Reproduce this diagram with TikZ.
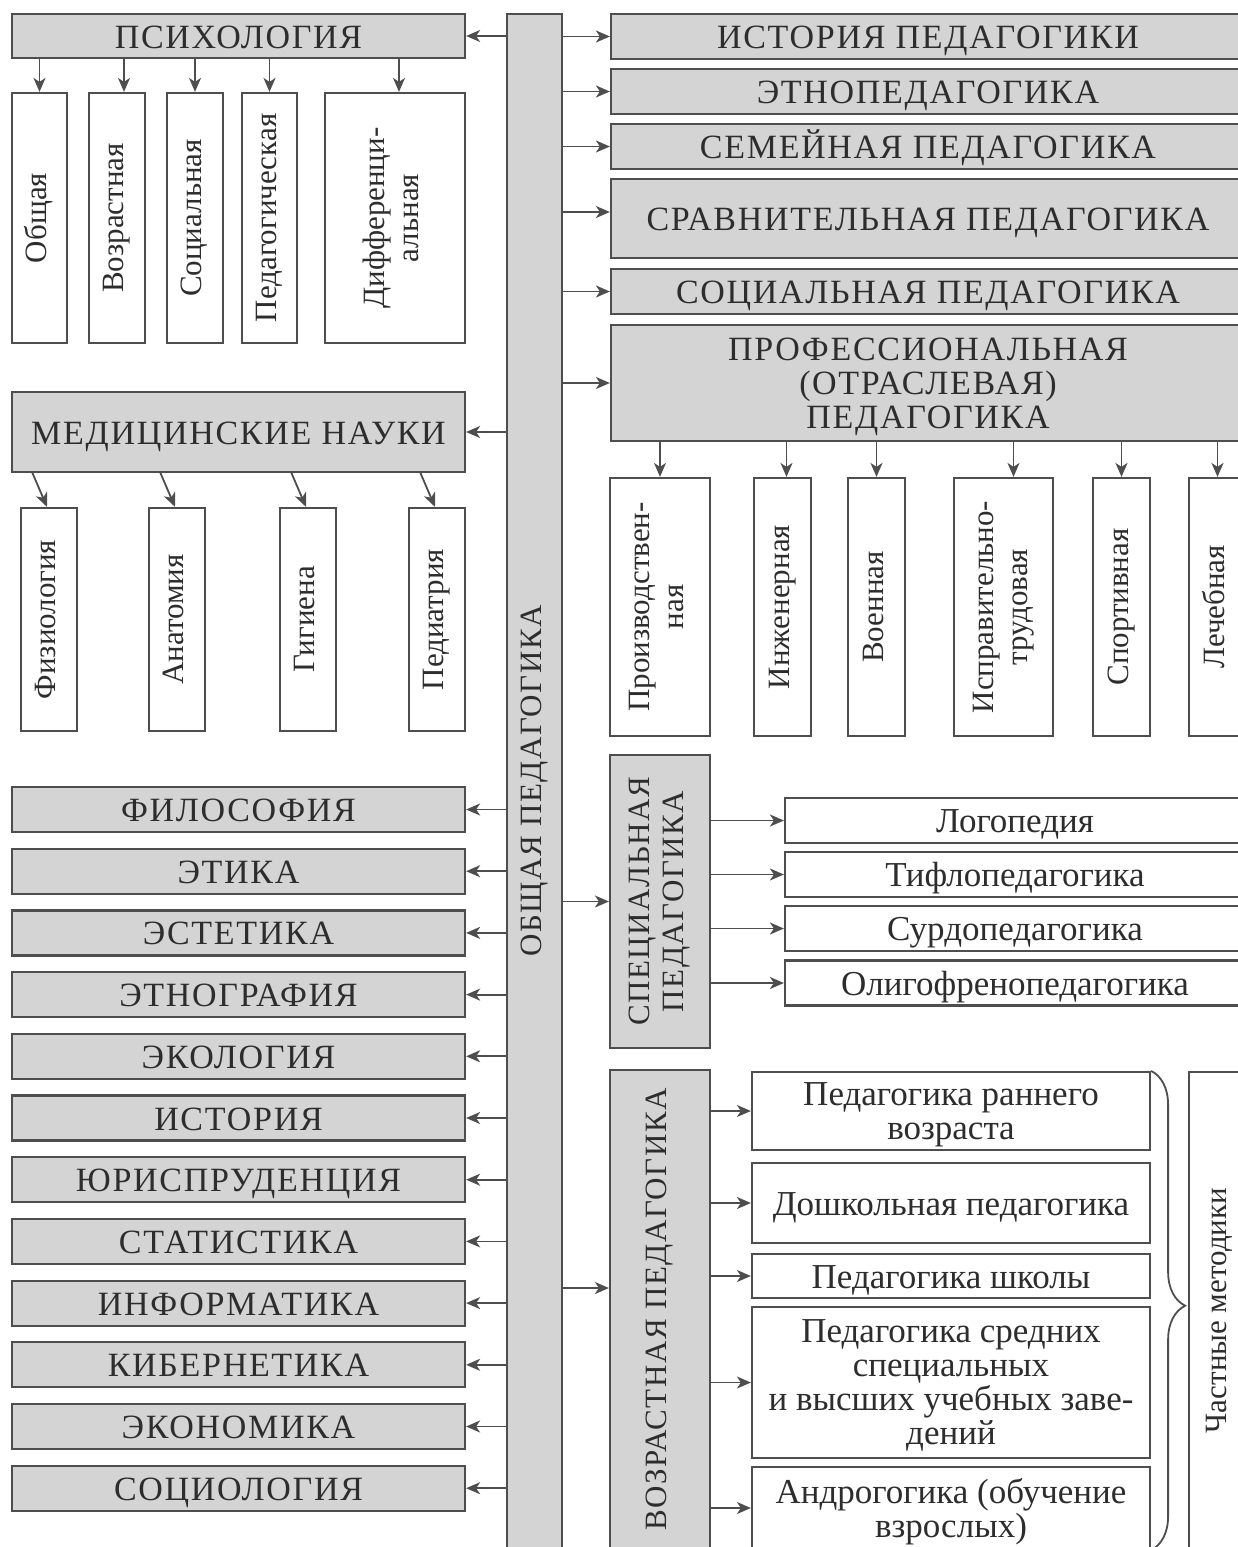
\documentclass[tikz,border=0pt]{standalone}
\usepackage{fontspec}
\setmainfont{Liberation Serif}
\usepackage{graphicx}
\usetikzlibrary{arrows.meta,decorations.pathreplacing}
\definecolor{boxgray}{RGB}{212,212,212}
\definecolor{linegray}{RGB}{78,78,78}
\definecolor{inkgray}{RGB}{45,45,45}
\newcommand{\vtext}[1]{\rotatebox{90}{\fontsize{31}{34}\selectfont\begin{tabular}{@{}c@{}}#1\end{tabular}}}

\begin{document}
\begin{tikzpicture}[x=1pt, y=-1pt, font=\fontsize{35}{34}\selectfont, text=inkgray,
  box/.style={draw=linegray, line width=2.2pt, inner sep=0pt, align=center},
  gbox/.style={box, fill=boxgray, capfont},
  wbox/.style={box, fill=white},
  oneline/.style={text height=24pt, text depth=0pt},
  capfont/.style={font=\fontsize{34}{34}\selectfont\addfontfeature{LetterSpace=5}},
  arr/.style={draw=linegray, line width=1.8pt, -{Stealth[length=14pt,width=12pt,inset=4pt]}}]
\useasboundingbox (0,0) rectangle (1238,1547);
\clip (0,0) rectangle (1238,1547);
% central bar
\node[gbox, minimum width=55pt, minimum height=1534pt] (main) at (534.5,781) {\vtext{ОБЩАЯ ПЕДАГОГИКА}};
% psychology
\node[gbox, oneline, minimum width=453pt, minimum height=44pt] (psy) at (238.5,36) {ПСИХОЛОГИЯ};
\node[wbox, minimum width=55pt, minimum height=250pt] (psyobsh) at (39.5,218) {\vtext{Общая}};
\node[wbox, minimum width=56pt, minimum height=250pt] (psyvozr) at (117,218) {\vtext{Возрастная}};
\node[wbox, minimum width=56pt, minimum height=250pt] (psysoc) at (195,218) {\vtext{Социальная}};
\node[wbox, minimum width=55pt, minimum height=250pt] (psyped) at (269.5,218) {\vtext{Педагогическая}};
\node[wbox, minimum width=140pt, minimum height=250pt] (psydiff) at (395,218) {\vtext{Дифференци-\\альная}};
\draw[arr] (main.west |- psy) -- (psy.east);
\draw[arr] (psyobsh.north |- psy.south) -- (psyobsh.north);
\draw[arr] ([xshift=7pt]psyvozr.north |- psy.south) -- ([xshift=7pt]psyvozr.north);
\draw[arr] (psysoc.north |- psy.south) -- (psysoc.north);
\draw[arr] (psyped.north |- psy.south) -- (psyped.north);
\draw[arr] ([xshift=4pt]psydiff.north |- psy.south) -- ([xshift=4pt]psydiff.north);
% medicine
\node[gbox, oneline, minimum width=453pt, minimum height=80pt] (med) at (238.5,432) {МЕДИЦИНСКИЕ НАУКИ};
\node[wbox, minimum width=56pt, minimum height=223pt] (medfiz) at (49,619.5) {\vtext{Физиология}};
\node[wbox, minimum width=56pt, minimum height=223pt] (medanat) at (177,619.5) {\vtext{Анатомия}};
\node[wbox, minimum width=56pt, minimum height=223pt] (medgig) at (308,619.5) {\vtext{Гигиена}};
\node[wbox, minimum width=56pt, minimum height=223pt] (medped) at (437,619.5) {\vtext{Педиатрия}};
\draw[arr] (main.west |- med) -- (med.east);
\draw[arr] ([shift={(-17,-35)}]medfiz.north) -- ([xshift=-2pt]medfiz.north);
\draw[arr] ([shift={(-17,-35)}]medanat.north) -- ([xshift=-2pt]medanat.north);
\draw[arr] ([shift={(-17,-35)}]medgig.north) -- ([xshift=-2pt]medgig.north);
\draw[arr] ([shift={(-17,-35)}]medped.north) -- ([xshift=-2pt]medped.north);
% other sciences
\node[gbox, oneline, minimum width=453pt, minimum height=45pt] (phil) at (238.5,809.5) {ФИЛОСОФИЯ};
\node[gbox, oneline, minimum width=453pt, minimum height=45pt] (ethic) at (238.5,871.2) {ЭТИКА};
\node[gbox, oneline, minimum width=453pt, minimum height=45pt] (aesth) at (238.5,932.9) {ЭСТЕТИКА};
\node[gbox, oneline, minimum width=453pt, minimum height=45pt] (ethno) at (238.5,994.6) {ЭТНОГРАФИЯ};
\node[gbox, oneline, minimum width=453pt, minimum height=45pt] (ecol) at (238.5,1056.3) {ЭКОЛОГИЯ};
\node[gbox, oneline, minimum width=453pt, minimum height=45pt] (hist) at (238.5,1118) {ИСТОРИЯ};
\node[gbox, oneline, minimum width=453pt, minimum height=45pt] (law) at (238.5,1179.7) {ЮРИСПРУДЕНЦИЯ};
\node[gbox, oneline, minimum width=453pt, minimum height=45pt] (stat) at (238.5,1241.4) {СТАТИСТИКА};
\node[gbox, oneline, minimum width=453pt, minimum height=45pt] (inf) at (238.5,1303.1) {ИНФОРМАТИКА};
\node[gbox, oneline, minimum width=453pt, minimum height=45pt] (cyb) at (238.5,1364.8) {КИБЕРНЕТИКА};
\node[gbox, oneline, minimum width=453pt, minimum height=45pt] (econ) at (238.5,1426.5) {ЭКОНОМИКА};
\node[gbox, oneline, minimum width=453pt, minimum height=45pt] (soc) at (238.5,1488.2) {СОЦИОЛОГИЯ};
\foreach \n in {phil,ethic,aesth,ethno,ecol,hist,law,stat,inf,cyb,econ,soc}
  \draw[arr] (main.west |- \n) -- (\n.east);
% branches of pedagogy
\node[gbox, oneline, minimum width=634pt, minimum height=45pt] (histped) at (928,36.5) {ИСТОРИЯ ПЕДАГОГИКИ};
\node[gbox, oneline, minimum width=634pt, minimum height=45pt] (ethnoped) at (928,91.5) {ЭТНОПЕДАГОГИКА};
\node[gbox, oneline, minimum width=634pt, minimum height=45pt] (famped) at (928,146.5) {СЕМЕЙНАЯ ПЕДАГОГИКА};
\node[gbox, oneline, minimum width=634pt, minimum height=79pt] (compped) at (928,218.5) {СРАВНИТЕЛЬНАЯ ПЕДАГОГИКА};
\node[gbox, oneline, minimum width=634pt, minimum height=45pt] (socped) at (928,291.5) {СОЦИАЛЬНАЯ ПЕДАГОГИКА};
\node[gbox, text depth=0pt, minimum width=634pt, minimum height=116pt] (profped) at (928,383) {ПРОФЕССИОНАЛЬНАЯ\\(ОТРАСЛЕВАЯ)\\ПЕДАГОГИКА};
\coordinate (compin) at ([yshift=6.5pt]compped.west);
\draw[arr] (main.east |- histped) -- (histped.west);
\draw[arr] (main.east |- ethnoped) -- (ethnoped.west);
\draw[arr] (main.east |- famped) -- (famped.west);
\draw[arr] (main.east |- compin) -- (compin);
\draw[arr] (main.east |- socped) -- (socped.west);
\draw[arr] (main.east |- profped) -- (profped.west);
% professional
\node[wbox, minimum width=100pt, minimum height=258pt] (profind) at (660,607) {\vtext{Производствен-\\ная}};
\node[wbox, minimum width=57pt, minimum height=258pt] (profeng) at (782.5,607) {\vtext{Инженерная}};
\node[wbox, minimum width=57pt, minimum height=258pt] (profmil) at (876.5,607) {\vtext{Военная}};
\node[wbox, minimum width=99pt, minimum height=258pt] (profcorr) at (1003.5,607) {\vtext{Исправительно-\\трудовая}};
\node[wbox, minimum width=57pt, minimum height=258pt] (profsport) at (1121.5,607) {\vtext{Спортивная}};
\node[wbox, minimum width=57pt, minimum height=258pt] (profmed) at (1217.5,607) {\vtext{Лечебная}};
\draw[arr] (profind.north |- profped.south) -- (profind.north);
\draw[arr] ([xshift=4pt]profeng.north |- profped.south) -- ([xshift=4pt]profeng.north);
\draw[arr] (profmil.north |- profped.south) -- (profmil.north);
\draw[arr] ([xshift=10pt]profcorr.north |- profped.south) -- ([xshift=10pt]profcorr.north);
\draw[arr] (profsport.north |- profped.south) -- (profsport.north);
\draw[arr] (profmed.north |- profped.south) -- (profmed.north);
% special
\node[gbox, minimum width=100pt, minimum height=293pt] (spec) at (660,901.5) {\vtext{СПЕЦИАЛЬНАЯ\\ПЕДАГОГИКА}};
\node[wbox, oneline, minimum width=460pt, minimum height=45pt] (speclogo) at (1015,820.5) {Логопедия};
\node[wbox, oneline, minimum width=460pt, minimum height=45pt] (spectiflo) at (1015,874.5) {Тифлопедагогика};
\node[wbox, oneline, minimum width=460pt, minimum height=45pt] (specsurdo) at (1015,928.5) {Сурдопедагогика};
\node[wbox, oneline, minimum width=460pt, minimum height=45pt] (specoligo) at (1015,983) {Олигофренопедагогика};
\draw[arr] (main.east |- spec) -- (spec.west);
\foreach \n in {speclogo,spectiflo,specsurdo,specoligo}
  \draw[arr] (spec.east |- \n) -- (\n.west);
% age
\node[gbox, minimum width=100pt, minimum height=479pt] (age) at (660,1309.5) {\vtext{ВОЗРАСТНАЯ ПЕДАГОГИКА}};
\node[wbox, text depth=0pt, minimum width=398pt, minimum height=78pt] (agerann) at (951,1111) {Педагогика раннего\\возраста};
\node[wbox, oneline, minimum width=398pt, minimum height=80pt] (agedosh) at (951,1203) {Дошкольная педагогика};
\node[wbox, oneline, minimum width=398pt, minimum height=44pt] (ageshk) at (951,1276) {Педагогика школы};
\node[wbox, text depth=0pt, minimum width=398pt, minimum height=151pt] (agesred) at (951,1382.5) {Педагогика средних\\специальных\\и высших учебных заве-\\дений};
\node[wbox, text depth=0pt, minimum width=398pt, minimum height=82pt] (ageandr) at (951,1508) {Андрогогика (обучение\\взрослых)};
\node[wbox, minimum width=61pt, minimum height=477pt] (chast) at (1219.5,1310.5) {\vtext{Частные методики}};
\coordinate (agein) at ([yshift=21.5pt]age.west);
\draw[arr] (main.east |- agein) -- (agein);
\foreach \n in {agerann,agedosh,ageshk,agesred,ageandr}
  \draw[arr] (age.east |- \n) -- (\n.west);
\draw[linegray, line width=1.8pt, decorate, decoration={brace, amplitude=34pt, aspect=0.49}] (agerann.north east) -- (ageandr.south east);
\end{tikzpicture}
\end{document}
